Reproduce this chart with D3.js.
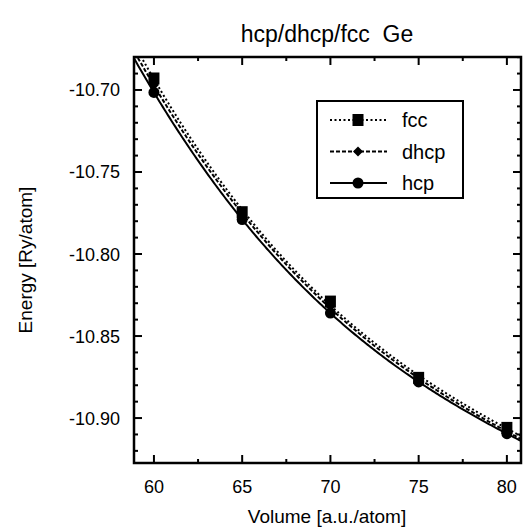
<!DOCTYPE html>
<html><head><meta charset="utf-8">
<script src="https://cdn.jsdelivr.net/npm/d3@7"></script>
<style>body{margin:0;background:#fff}svg{font-family:"Liberation Sans",Arial,sans-serif}text{white-space:pre}</style>
</head><body><svg id="c" width="526" height="527"></svg>
<script>
const volumes = [60, 65, 70, 75, 80];
const fcc  = [-10.693, -10.7745, -10.829, -10.8755, -10.906];
const dhcp = [-10.697, -10.776, -10.832, -10.8765, -10.908];
const hcp  = [-10.7015, -10.779, -10.836, -10.878, -10.9095];
const xTicks = [60, 65, 70, 75, 80];
const yTicks = [-10.70, -10.75, -10.80, -10.85, -10.90];
const title = "hcp/dhcp/fcc  Ge";
const xLabel = "Volume [a.u./atom]";
const yLabel = "Energy [Ry/atom]";

const series = [
  {name: "fcc", values: fcc, dash: "2,2.5", marker: "square"},
  {name: "dhcp", values: dhcp, dash: "4,2", marker: "diamond"},
  {name: "hcp", values: hcp, dash: null, marker: "circle"}
];

const svg = d3.select("#c");
const L = 134, T = 57, R = 521, B = 463;
const x = d3.scaleLinear().domain([58.87, 80.8]).range([L, R]);
const y = d3.scaleLinear().domain([-10.9274, -10.6799]).range([B, T]);

// cubic least-squares fit
function fit(xs, ys, deg) {
  const m = d3.mean(xs);
  const n = deg + 1;
  const A = Array.from({length: n}, () => new Array(n + 1).fill(0));
  xs.forEach((xv, k) => {
    const t = xv - m;
    for (let i = 0; i < n; i++) {
      for (let j = 0; j < n; j++) A[i][j] += Math.pow(t, i + j);
      A[i][n] += ys[k] * Math.pow(t, i);
    }
  });
  for (let i = 0; i < n; i++) {
    let p = i;
    for (let r = i + 1; r < n; r++) if (Math.abs(A[r][i]) > Math.abs(A[p][i])) p = r;
    [A[i], A[p]] = [A[p], A[i]];
    for (let r = 0; r < n; r++) if (r !== i) {
      const f = A[r][i] / A[i][i];
      for (let c = i; c <= n; c++) A[r][c] -= f * A[i][c];
    }
  }
  const coef = A.map((row, i) => row[n] / row[i]);
  return v => coef.reduce((s, c, i) => s + c * Math.pow(v - m, i), 0);
}

svg.append("clipPath").attr("id", "clip").append("rect")
  .attr("x", L).attr("y", T).attr("width", R - L).attr("height", B - T);

const g = svg.append("g").attr("clip-path", "url(#clip)");
const line = d3.line().x(d => x(d[0])).y(d => y(d[1]));
const vs = d3.range(57, 82.01, 0.1);

function marker(sel, type, cx, cy) {
  if (type === "square") sel.append("rect").attr("x", cx - 5.5).attr("y", cy - 6).attr("width", 11).attr("height", 12);
  else if (type === "diamond") sel.append("path").attr("d", `M${cx},${cy-5}L${cx+5},${cy}L${cx},${cy+5}L${cx-5},${cy}Z`);
  else sel.append("circle").attr("cx", cx).attr("cy", cy).attr("r", 5.5);
}

series.forEach(s => {
  const f = fit(volumes, s.values, 3);
  g.append("path").datum(vs.map(v => [v, f(v)])).attr("d", line)
    .attr("fill", "none").attr("stroke", "#000").attr("stroke-width", 2)
    .attr("stroke-dasharray", s.dash);
});
series.forEach(s => {
  const mg = g.append("g").attr("fill", "#000");
  volumes.forEach((v, i) => marker(mg, s.marker, x(v), y(s.values[i])));
});

// frame
svg.append("rect").attr("x", L).attr("y", T).attr("width", R - L).attr("height", B - T)
  .attr("fill", "none").attr("stroke", "#000").attr("stroke-width", 2.5);

// ticks
const xMinor = d3.range(57.5, 81, 2.5).filter(v => !xTicks.includes(v) && v > 58.87 && v < 80.8);
const yMinor = d3.range(-10.92, -10.68, 0.01).map(v => +v.toFixed(2)).filter(v => !yTicks.some(t => Math.abs(t - v) < 1e-6));
const tk = svg.append("g").attr("stroke", "#000").attr("stroke-width", 2);
xTicks.forEach(v => {
  tk.append("line").attr("x1", x(v)).attr("x2", x(v)).attr("y1", B).attr("y2", B - 8);
  tk.append("line").attr("x1", x(v)).attr("x2", x(v)).attr("y1", T).attr("y2", T + 8);
});
xMinor.forEach(v => {
  tk.append("line").attr("x1", x(v)).attr("x2", x(v)).attr("y1", B).attr("y2", B - 4);
  tk.append("line").attr("x1", x(v)).attr("x2", x(v)).attr("y1", T).attr("y2", T + 4);
});
yTicks.forEach(v => {
  tk.append("line").attr("y1", y(v)).attr("y2", y(v)).attr("x1", L).attr("x2", L + 8);
  tk.append("line").attr("y1", y(v)).attr("y2", y(v)).attr("x1", R).attr("x2", R - 8);
});
yMinor.forEach(v => {
  tk.append("line").attr("y1", y(v)).attr("y2", y(v)).attr("x1", L).attr("x2", L + 4);
  tk.append("line").attr("y1", y(v)).attr("y2", y(v)).attr("x1", R).attr("x2", R - 4);
});

// tick labels
svg.append("g").selectAll("text").data(xTicks).join("text")
  .attr("x", d => x(d)).attr("y", 493).attr("text-anchor", "middle")
  .attr("font-size", 18).text(d => d);
svg.append("g").selectAll("text").data(yTicks).join("text")
  .attr("x", 120).attr("y", d => y(d) + 6.5).attr("text-anchor", "end")
  .attr("font-size", 18).text(d => d.toFixed(2));

// labels
svg.append("text").attr("x", 327).attr("y", 42).attr("text-anchor", "middle")
  .attr("font-size", 23).text(title);
svg.append("text").attr("x", 327).attr("y", 523).attr("text-anchor", "middle")
  .attr("font-size", 19).text(xLabel);
svg.append("text").attr("transform", `translate(32,${(T + B) / 2}) rotate(-90)`)
  .attr("text-anchor", "middle").attr("font-size", 19).text(yLabel);

// legend
const lg = svg.append("g");
lg.append("rect").attr("x", 317).attr("y", 101).attr("width", 146).attr("height", 97)
  .attr("fill", "#fff").attr("stroke", "#000").attr("stroke-width", 2);
series.forEach((s, i) => {
  const cy = 120 + i * 31.5;
  lg.append("line").attr("x1", 330).attr("x2", 387).attr("y1", cy).attr("y2", cy)
    .attr("stroke", "#000").attr("stroke-width", 2).attr("stroke-dasharray", s.dash);
  const mg = lg.append("g").attr("fill", "#000");
  marker(mg, s.marker, 358, cy);
  lg.append("text").attr("x", 402).attr("y", cy + 7).attr("font-size", 20).text(s.name);
});
</script></body></html>
